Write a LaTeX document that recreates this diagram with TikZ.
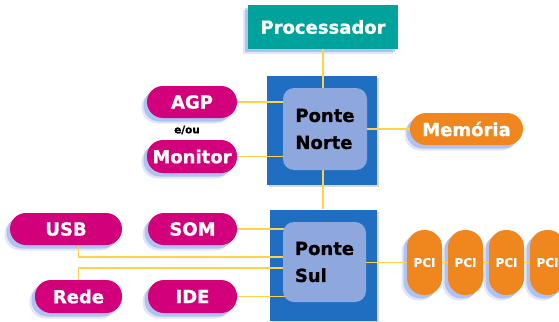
\documentclass[tikz,border=0pt]{standalone}
\usepackage{fontspec}
\newfontfamily\lbl{DejaVu Sans Bold}[FakeBold=0.9]
\usetikzlibrary{shadows}
\definecolor{teal1}{HTML}{00A39B}
\definecolor{mag}{HTML}{D2007A}
\definecolor{org}{HTML}{F0861E}
\definecolor{sqblue}{HTML}{1F6EC2}
\definecolor{inblue}{HTML}{8EA8DD}
\definecolor{wire}{HTML}{FFD24A}
\definecolor{shblue}{HTML}{5A80E2}
\tikzset{
  x=1pt, y=-1pt,
  shd/.style={general shadow={fill=shblue, opacity=.2, shadow xshift=-5.5pt, shadow yshift=-5.5pt},
              general shadow={fill=shblue, opacity=.35, shadow xshift=-3.5pt, shadow yshift=-3.5pt}},
  pill/.style={shd, draw=none, rounded corners=16pt, inner sep=0pt, text=white,
               font=\lbl\fontsize{18}{22}\selectfont},
  magpill/.style={pill, fill=mag},
  orgpill/.style={pill, fill=org},
  pci/.style={shd, fill=org, rounded corners=17pt, minimum width=35pt, minimum height=65pt,
              inner sep=0pt, text=white, font=\lbl\fontsize{12}{14}\selectfont},
  outer/.style={fill=sqblue, inner sep=0pt,
                general shadow={fill=black, opacity=.15, shadow xshift=2pt, shadow yshift=-2pt}},
  inner/.style={fill=inblue, rounded corners=11pt, inner sep=0pt, align=left,
                font=\lbl\fontsize{18}{27}\selectfont},
  wireline/.style={draw=wire, line width=1.6pt}
}
\begin{document}
\begin{tikzpicture}
\useasboundingbox (0,0) rectangle (559,321);
% processor
\node[shd, fill=teal1, minimum width=150pt, minimum height=44pt, inner sep=0pt, text=white,
      font=\lbl\fontsize{18}{22}\selectfont] (proc) at (323,27) {Processador};
% bridges outer squares
\node[outer, minimum width=110pt, minimum height=109pt] (nout) at (322,130.5) {};
\node[outer, minimum width=107pt, minimum height=111pt] (sout) at (323.5,265) {};
% connectors
\coordinate (pn) at (323,0);
\draw[wireline] (proc.south -| pn) -- (nout.north -| pn) -- (sout.north -| pn);
% peripherals
\node[magpill, minimum width=90pt, minimum height=32pt] (agp) at (192,102) {AGP};
\node[magpill, minimum width=90pt, minimum height=33pt] (mon) at (192,156.5) {Monitor};
\node[font=\lbl\fontsize{10.5}{12}\selectfont] (eou) at (187,130) {e/ou};
\node[orgpill, minimum width=113pt, minimum height=32pt] (mem) at (466.5,129) {Memória};
\node[magpill, minimum width=112pt, minimum height=32pt] (usb) at (66,229) {USB};
\node[magpill, minimum width=89pt, minimum height=32pt] (som) at (192.5,229) {SOM};
\node[magpill, minimum width=87pt, minimum height=33pt] (rede) at (78.5,296.5) {Rede};
\node[magpill, minimum width=89pt, minimum height=33pt] (ide) at (192.5,296.5) {IDE};
% wires
\coordinate (nin) at (325,129);
\coordinate (sin) at (324.5,262);
\coordinate (uy) at (0,257);
\coordinate (ry) at (0,268);
\coordinate (py) at (0,262.5);
\draw[wireline] (agp.east) -- (agp.east -| nin);
\draw[wireline] (mon.east) -- (mon.east -| nin);
\draw[wireline] (mem.west) -- (mem.west -| nin);
\draw[wireline] (som.east) -- (som.east -| sin);
\draw[wireline] (ide.east) -- (ide.east -| sin);
\draw[wireline] (usb.south -| rede.north) -- (uy -| rede.north) -- (uy -| sin);
\draw[wireline] (rede.north) -- (ry -| rede.north) -- (ry -| sin);
% PCI slots
\node[pci] (p1) at (424.5,262.5) {PCI};
\node[pci] (p2) at (465.5,262.5) {PCI};
\node[pci] (p3) at (506.5,262.5) {PCI};
\node[pci] (p4) at (547.5,262.5) {PCI};
\draw[wireline] (py -| sin) -- (p1.west);
\draw[wireline] (p1.east) -- (p2.west) (p2.east) -- (p3.west) (p3.east) -- (p4.west);
% inner squares
\node[inner, minimum width=84pt, minimum height=82pt] (ninn) at (nin) {Ponte\\Norte};
\node[inner, minimum width=83pt, minimum height=80pt] (sinn) at (sin) {Ponte\\Sul};
\end{tikzpicture}
\end{document}
